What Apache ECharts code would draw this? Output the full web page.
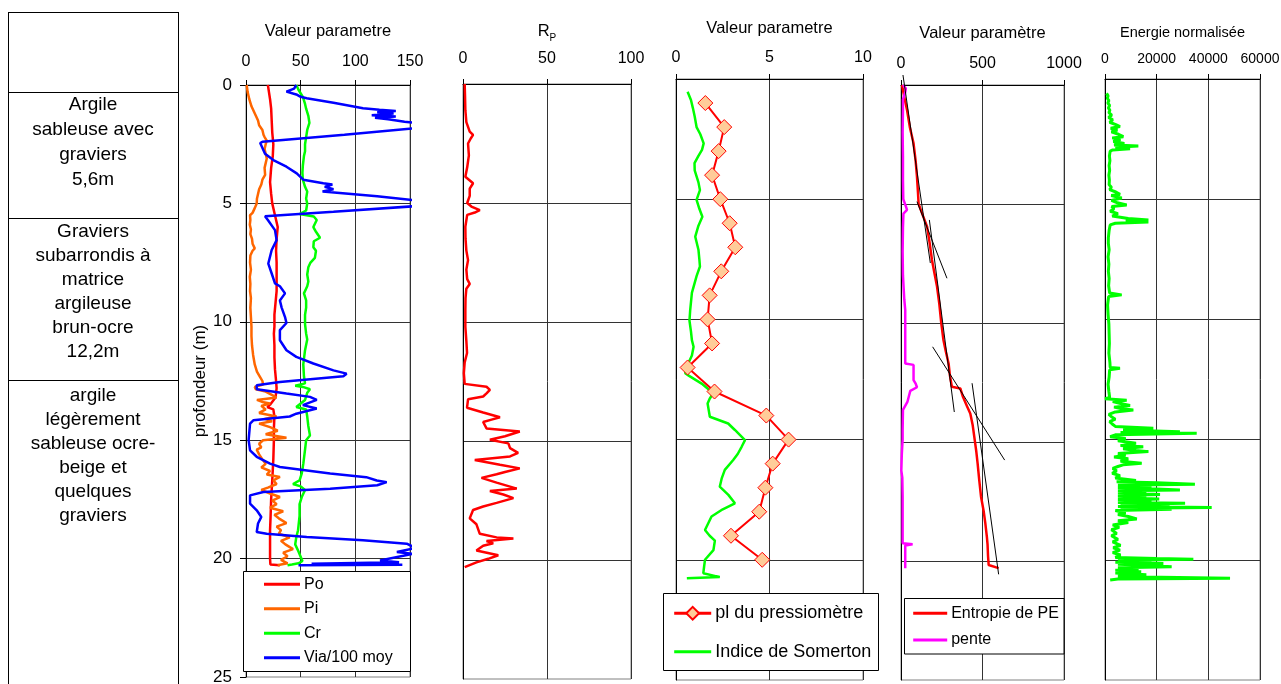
<!DOCTYPE html>
<html><head><meta charset="utf-8">
<script src="https://cdn.jsdelivr.net/npm/echarts@6/dist/echarts.min.js"></script>
<style>html,body{margin:0;padding:0;background:#fff}#c{width:1281px;height:684px}</style>
</head><body><div id="c"></div>
<script>
// ---------- tick labels ----------
const depthTicks = [0, 5, 10, 15, 20, 25];
const ticksP1 = [0, 50, 100, 150];
const ticksP2 = [0, 50, 100];
const ticksP3 = [0, 5, 10];
const ticksP4 = [0, 500, 1000];
const ticksP5 = [0, 20000, 40000, 60000];

// ---------- lithology column ----------
const lithoRows = [
  ['Argile', 'sableuse avec', 'graviers', '5,6m'],
  ['Graviers', 'subarrondis à', 'matrice', 'argileuse', 'brun-ocre', '12,2m'],
  ['argile', 'légèrement', 'sableuse ocre-', 'beige et', 'quelques', 'graviers']
];

// ---------- panel 1 : [depth m, value] ----------
const po = [[0,20],[0.3,21],[0.6,22],[1.0,23],[1.5,23.5],[2.0,24],[2.5,25],[3.0,24.5],[3.5,23],[4.1,22],[4.6,23],[5.0,24],[5.5,26.5],[6.0,29],[6.5,28],[7.0,27.5],[7.5,28],[8.0,28],[8.7,28],[9.2,27],[9.7,26],[10.2,26],[10.5,25.5],[11.0,26],[11.5,26],[12.0,26.5],[12.5,27.5],[12.8,28],[13.2,27],[13.5,22],[13.6,19.5],[13.7,25],[14.0,26],[14.5,25.5],[15.0,25.5],[15.8,25],[16.7,24],[17.5,23],[18.2,22.5],[18.8,22],[19.5,22],[20.0,22],[20.25,22.3],[20.28,31]];
const pi = [[0,0.6],[0.3,1.5],[0.6,3],[0.9,5],[1.1,7],[1.3,9],[1.5,11],[1.7,12],[1.9,15],[2.1,16],[2.2,17],[2.35,19],[2.5,18],[2.7,17],[2.9,18],[3.1,19],[3.3,18],[3.5,17],[3.8,17.5],[4.0,15],[4.2,14],[4.4,12],[4.6,11],[4.8,10],[5.0,9.8],[5.2,8],[5.4,6],[5.5,3.7],[5.7,4],[5.9,3.5],[6.1,4.5],[6.3,4],[6.5,5.5],[6.7,6],[6.9,8],[7.0,6],[7.2,4],[7.5,3.7],[7.8,4.5],[8.1,3.5],[8.4,4],[8.7,3.7],[9.0,4.5],[9.4,4],[9.8,4.5],[10.2,5],[10.6,5],[11.0,5.5],[11.4,6.5],[11.8,8],[12.1,10],[12.3,12.5],[12.5,15],[12.65,15.6],[12.75,8],[12.85,9],[12.95,18],[13.1,24],[13.2,28],[13.3,10],[13.4,16],[13.45,22],[13.55,14],[13.7,18],[13.85,12],[14.0,28],[14.1,17],[14.2,24],[14.3,12],[14.45,22],[14.6,29],[14.75,18],[14.9,37],[15.0,15.6],[15.15,12],[15.3,14],[15.4,9.8],[15.6,12],[15.85,15.6],[16.0,18],[16.15,14],[16.3,22],[16.45,19],[16.55,31],[16.7,25],[16.85,28],[17.0,20],[17.1,14],[17.25,22],[17.4,31],[17.55,24],[17.7,28],[17.85,22],[18.0,34],[18.15,26],[18.3,30],[18.5,37],[18.65,28],[18.8,32],[18.95,30],[19.1,40],[19.25,32],[19.4,36],[19.6,43],[19.75,34],[19.9,38],[20.05,32],[20.2,38],[20.25,32],[20.28,29]];
const cr = [[0,46],[0.2,48],[0.5,52],[0.8,54],[1.0,55],[1.3,57],[1.6,58],[1.9,56],[2.2,55],[2.5,54],[2.8,54],[3.0,53],[3.4,52],[3.7,51.6],[4.0,52],[4.3,54],[4.5,56],[4.8,55],[5.0,56],[5.3,55],[5.45,49],[5.5,49],[5.55,62],[5.7,64.7],[6.0,61.6],[6.2,64],[6.45,67.7],[6.6,62],[6.85,61.6],[7.0,64],[7.3,63],[7.5,59],[7.7,57],[8.0,56],[8.3,57],[8.5,56],[8.8,53],[9.1,55],[9.4,55],[9.7,54],[10.1,54],[10.5,55],[10.75,56],[11.2,54],[11.8,52.4],[12.3,53],[12.6,54],[12.7,45],[12.75,52],[12.85,58.5],[13.0,56],[13.3,54],[13.6,46],[13.7,55],[14.0,56],[14.4,57],[14.8,58.5],[15.0,55],[15.4,54],[16.0,52.4],[16.4,51],[16.7,49],[16.85,43],[16.95,50],[17.1,54],[17.4,51],[17.7,49],[18.2,49],[18.8,47.6],[19.1,46],[19.4,45],[19.7,48],[20.1,51.6],[20.2,48],[20.25,42],[20.28,38]];
const via = [[0,46],[0.15,44],[0.28,37],[0.4,46],[0.5,50],[0.56,55.5],[0.75,80],[0.98,107],[1.05,122],[1.1,137],[1.15,120],[1.2,135],[1.28,115],[1.33,137],[1.38,118],[1.45,130],[1.55,145],[1.62,160],[1.8,160],[2.1,90],[2.4,15],[2.45,13],[2.9,17.4],[3.17,25],[3.45,37],[3.73,46.4],[4.0,52.4],[4.15,70.7],[4.2,79],[4.3,72],[4.4,80],[4.5,70],[4.7,120],[4.9,160],[5.1,160],[5.35,80],[5.54,17.4],[5.7,20],[6.13,26.5],[6.55,28],[6.97,23.5],[7.54,20.4],[7.96,23.5],[8.38,26.5],[8.5,31],[8.8,35.7],[9.1,31],[9.4,32.6],[9.8,35.7],[10.05,37],[10.35,31],[10.78,31],[11.2,37],[11.48,46],[11.76,61.6],[12.05,80],[12.19,92],[12.3,89],[12.54,31],[12.68,9.8],[12.85,9.8],[13.03,37],[13.17,58.5],[13.3,64.7],[13.52,52],[13.66,64.7],[13.88,46],[14.0,40],[14.16,6.7],[14.3,3.7],[15.0,2.4],[15.43,3.7],[15.7,9.8],[15.99,22],[16.13,31],[16.41,77],[16.56,110],[16.7,119.6],[16.77,128.7],[16.9,120],[17.05,77],[17.19,15.9],[17.33,3.7],[17.68,3.7],[17.96,9.8],[18.24,14],[18.52,11],[18.88,9.8],[18.95,18.9],[19.09,55.5],[19.23,107],[19.37,147],[19.55,155],[19.72,138],[19.8,152],[20.08,122.6],[20.15,140],[20.22,60],[20.26,143],[20.28,48]];

// ---------- panel 2 : RP ----------
const rp = [[0,1],[0.5,1.2],[1.1,1.4],[1.6,2],[2.0,4],[2.14,6],[2.3,4.5],[2.5,3],[3.0,3.5],[3.5,2.5],[3.9,1.4],[4.17,6],[4.4,4],[4.7,4],[5.0,2.5],[5.15,5],[5.3,10],[5.4,7],[5.5,2.5],[6.0,1.4],[6.5,1.5],[7.0,2],[7.4,3],[7.8,2],[8.2,2.5],[8.4,4],[8.6,2],[9.0,1.5],[9.5,1.4],[10.2,1.4],[10.8,2],[11.3,2.4],[11.7,1],[12.15,0.5],[12.6,1],[12.72,14],[12.85,16],[13.0,14],[13.13,12],[13.25,3],[13.6,2.4],[13.8,12],[14.0,22],[14.1,17],[14.2,12],[14.47,14],[14.6,33.8],[14.8,25],[14.95,16],[15.1,27],[15.3,28],[15.5,32.8],[15.65,28],[15.8,7],[16.0,22],[16.15,33.8],[16.3,25],[16.4,20],[16.55,11],[16.75,20],[17.0,32],[17.1,16],[17.25,24],[17.4,30],[17.6,20],[17.75,12],[17.9,6],[18.25,4],[18.5,8],[18.9,10],[19.05,20],[19.1,30],[19.2,14],[19.3,18],[19.4,12],[19.6,8],[19.8,21],[19.95,15],[20.1,8],[20.3,1]];

// ---------- panel 3 ----------
const plDepth = [1,2,3,4,5,6,7,8,9,10,11,12,13,14,15,16,17,18,19,20];
const plValue = [1.57,2.58,2.28,1.93,2.37,2.87,3.17,2.42,1.8,1.69,1.93,0.62,2.06,4.83,6.02,5.17,4.78,4.45,2.94,4.61];
const somerton = [[0.53,0.62],[0.87,0.8],[1.2,0.9],[1.56,1.0],[2.0,1.1],[2.3,1.3],[2.68,1.48],[2.95,1.39],[3.2,1.2],[3.5,0.99],[3.8,1.0],[4.05,1.1],[4.3,1.2],[4.62,1.28],[5.03,1.1],[5.4,1.25],[5.73,1.41],[6.1,1.2],[6.56,1.03],[7.1,1.2],[7.5,1.25],[7.8,1.28],[8.2,1.1],[8.9,0.85],[9.6,0.76],[10.05,0.72],[10.5,0.8],[10.86,0.85],[11.14,0.94],[11.5,0.85],[11.8,0.67],[12.24,0.49],[12.35,0.7],[12.67,1.37],[13.07,1.99],[13.3,1.8],[13.5,1.69],[14.05,1.81],[14.33,2.79],[14.6,3.15],[15.02,3.69],[15.3,3.51],[15.6,3.3],[15.85,3.06],[16.26,2.61],[16.6,2.45],[16.96,2.34],[17.3,2.8],[17.65,3.15],[17.9,2.5],[18.2,1.9],[18.76,1.55],[19.0,1.8],[19.2,2.08],[19.6,2.0],[20.0,1.55],[20.3,1.5],[20.56,1.46],[20.72,2.34],[20.77,0.58]];

// ---------- panel 4 ----------
const entropie = [[0,6],[0.5,20],[1.05,37],[1.8,55],[2.45,77],[3.2,90],[3.85,98],[4.5,104],[5.0,108],[5.5,135],[5.95,160],[6.6,175],[7.35,190],[7.9,205],[8.47,221],[9.2,235],[10.0,247],[10.7,260],[11.2,275],[11.7,292],[12.2,300],[12.68,312],[12.75,364],[13.1,380],[13.5,405],[13.8,425],[14.3,440],[14.9,452],[15.4,462],[15.9,470],[16.6,480],[17.3,491],[17.9,507],[18.4,517],[19.0,527],[19.3,531],[19.8,534],[20.17,538],[20.3,599]];
const pente = [[0,12],[0.15,30],[0.3,26],[0.6,12],[1.05,12],[2.0,10],[3.0,12],[4.0,12],[4.8,14],[5.1,30],[5.25,37],[5.4,15],[6.0,12],[7.0,10],[8.0,12],[9.0,20],[9.45,26],[10.3,26],[11.0,26],[11.7,26],[11.76,77],[12.4,77],[12.55,90],[12.7,98],[12.85,57],[13.3,40],[13.65,12],[14.5,10],[14.9,10],[15.5,5],[16.2,2],[16.5,8],[17.3,10],[18.0,10],[18.8,10],[19.25,10],[19.3,71],[19.35,26],[20.3,26]];
const trendA = [[-0.42,12],[7.48,180]];
const trendB = [[4.9,98],[8.12,282]];
const trendC = [[5.67,174],[13.74,327]];
const trendD = [[11.0,194],[15.76,636]];
const trendE = [[12.53,436],[20.56,599]];

// ---------- panel 5 ----------
const energie = [[0.6,600],[0.7,1200],[0.8,900],[0.9,1500],[1.0,1100],[1.1,1800],[1.2,1300],[1.3,1900],[1.4,1500],[1.5,2600],[1.6,1400],[1.7,3000],[1.8,1800],[1.9,4200],[1.98,5800],[2.05,2200],[2.12,4800],[2.2,2500],[2.3,5200],[2.4,7100],[2.45,2800],[2.52,6000],[2.6,3200],[2.68,7500],[2.75,3500],[2.79,12900],[2.84,4000],[2.9,9700],[2.95,3000],[3.0,2000],[3.2,1700],[3.4,1900],[3.6,1600],[3.8,1800],[4.0,1500],[4.2,1700],[4.4,1600],[4.5,2500],[4.6,1800],[4.7,4200],[4.8,5800],[4.85,2400],[4.95,6500],[5.05,2500],[5.15,4800],[5.24,8400],[5.3,2600],[5.4,3500],[5.5,2000],[5.6,5000],[5.7,2800],[5.8,9000],[5.87,16800],[5.9,8000],[5.95,16800],[6.0,4000],[6.07,2000],[6.3,1600],[6.6,1300],[6.84,1290],[7.1,1600],[7.4,1200],[7.7,1500],[8.0,1300],[8.3,1600],[8.6,1400],[8.9,1800],[8.98,6450],[9.05,1400],[9.4,1000],[9.8,1200],[10.2,1500],[10.6,1600],[11.0,1700],[11.4,1500],[11.8,1900],[12.0,2000],[12.03,5800],[12.1,1800],[12.4,1600],[12.7,1200],[13.0,1500],[13.25,1800],[13.3,0],[13.36,8400],[13.42,3000],[13.5,6000],[13.58,9700],[13.65,3500],[13.72,6500],[13.77,10970],[13.85,4000],[13.95,1500],[14.05,2500],[14.15,4000],[14.25,1800],[14.35,2800],[14.45,4000],[14.53,18700],[14.6,7000],[14.67,29000],[14.7,6000],[14.74,35500],[14.8,4000],[14.88,2000],[14.95,8000],[15.05,5000],[15.15,12000],[15.25,6000],[15.3,14800],[15.38,7000],[15.45,12000],[15.5,16800],[15.58,5000],[15.65,8000],[15.72,3500],[15.8,9000],[15.9,6000],[15.98,14200],[16.05,7000],[16.12,5000],[16.2,3000],[16.3,4500],[16.4,2800],[16.5,5800],[16.6,4000],[16.7,12000],[16.75,4500],[16.8,20000],[16.86,34800],[16.9,5000],[16.95,18000],[17.0,5000],[17.05,20000],[17.1,29000],[17.13,5000],[17.18,16000],[17.22,5000],[17.28,21300],[17.33,5000],[17.38,16000],[17.42,5000],[17.47,21000],[17.52,5000],[17.58,18000],[17.62,5000],[17.65,31000],[17.7,6000],[17.75,25000],[17.78,5000],[17.82,41300],[17.86,6000],[17.9,25800],[17.95,4000],[18.05,8000],[18.12,5000],[18.2,9000],[18.3,12300],[18.38,5000],[18.45,9000],[18.55,3000],[18.65,5500],[18.75,2500],[18.9,4500],[19.0,2500],[19.15,5000],[19.25,3000],[19.4,6000],[19.5,3200],[19.6,5800],[19.7,3000],[19.8,6000],[19.9,4000],[19.95,20000],[19.98,34200],[20.02,5000],[20.06,18000],[20.1,4000],[20.15,22600],[20.19,5000],[20.23,16000],[20.29,25800],[20.33,5000],[20.38,13000],[20.43,4000],[20.5,14000],[20.55,4000],[20.62,16000],[20.68,5000],[20.72,15000],[20.77,48400],[20.8,5000],[20.84,2000]];

// ---------- build ----------
const FONT = "'Liberation Sans', Arial, sans-serif";
const flip = arr => arr.map(p => [p[1], p[0]]);

const grids = [
  {left: 246, top: 85, width: 164, height: 592},
  {left: 463, top: 84, width: 168, height: 595},
  {left: 676, top: 79, width: 187, height: 601},
  {left: 901, top: 85, width: 163, height: 595},
  {left: 1105, top: 79, width: 155, height: 601}
].map(g => Object.assign(g, {show: true, borderColor: '#808080', borderWidth: 1, backgroundColor: 'transparent', outerBoundsMode: 'none', containLabel: false}));

function mkX(idx, ticks, name, o) {
  return {
    type: 'value', gridIndex: idx, position: 'top',
    min: ticks[0], max: ticks[ticks.length - 1], interval: ticks[1] - ticks[0],
    name: name, nameLocation: 'middle', nameGap: o.nameGap,
    nameTextStyle: {fontSize: o.nameSize, color: '#000', fontFamily: FONT, rich: o.rich},
    axisLine: {show: true, onZero: false, lineStyle: {color: '#000', width: 1}},
    axisTick: {show: true, inside: false, length: 5, lineStyle: {color: '#000'}},
    axisLabel: {show: true, fontSize: o.labelSize, color: '#000', margin: o.margin, fontFamily: FONT,
      formatter: v => String(v), hideOverlap: false},
    splitLine: {show: true, lineStyle: {color: '#333', width: 1}}
  };
}
function mkY(idx, withLabels) {
  return {
    type: 'value', gridIndex: idx, inverse: true,
    min: depthTicks[0], max: depthTicks[depthTicks.length - 1], interval: depthTicks[1] - depthTicks[0],
    name: withLabels ? 'profondeur (m)' : '', nameLocation: 'middle', nameRotate: 90, nameGap: 34,
    nameTextStyle: {fontSize: 17, color: '#000', fontFamily: FONT},
    axisLine: {show: true, onZero: false, lineStyle: {color: '#000', width: 1}},
    axisTick: {show: withLabels, inside: false, length: 6, lineStyle: {color: '#000'}},
    axisLabel: {show: withLabels, fontSize: 17, color: '#000', margin: 14, fontFamily: FONT, formatter: v => String(v)},
    splitLine: {show: true, showMaxLine: false, lineStyle: {color: '#333', width: 1}}
  };
}

const xAxis = [
  mkX(0, ticksP1, 'Valeur parametre', {nameGap: 45, nameSize: 16.5, labelSize: 16, margin: 15}),
  mkX(1, ticksP2, '{r|R}{p|P}', {nameGap: 44, nameSize: 16.5, labelSize: 16, margin: 17,
      rich: {r: {fontSize: 16.5, fontFamily: FONT, color: '#000', verticalAlign: 'bottom'},
             p: {fontSize: 10, fontFamily: FONT, color: '#000', verticalAlign: 'bottom', padding: [0, 0, -3, 0]}}}),
  mkX(2, ticksP3, 'Valeur parametre', {nameGap: 42, nameSize: 16.5, labelSize: 16, margin: 13}),
  mkX(3, ticksP4, 'Valeur paramètre', {nameGap: 43, nameSize: 16.5, labelSize: 16, margin: 13}),
  mkX(4, ticksP5, 'Energie normalisée', {nameGap: 39, nameSize: 14.5, labelSize: 14, margin: 13})
];
const yAxis = [mkY(0, true), mkY(1, false), mkY(2, false), mkY(3, false), mkY(4, false)];

function curve(name, idx, data, color, width, extra) {
  return Object.assign({
    name: name, type: 'line', xAxisIndex: idx, yAxisIndex: idx,
    data: flip(data), symbol: 'none', showSymbol: false, clip: true,
    lineStyle: {color: color, width: width}, itemStyle: {color: color},
    silent: true, animation: false, z: 3
  }, extra || {});
}
function trend(idx, data) {
  return {type: 'line', xAxisIndex: idx, yAxisIndex: idx, data: flip(data), symbol: 'none',
    clip: false, lineStyle: {color: '#000', width: 1}, itemStyle: {color: '#000'}, silent: true, z: 4};
}

const series = [
  curve('Po', 0, po, '#FF0000', 2.5),
  curve('Pi', 0, pi, '#FF6600', 2.5),
  curve('Cr', 0, cr, '#00FF00', 2.5),
  curve('Via/100 moy', 0, via, '#0000FF', 2.5),
  curve('RP', 1, rp, '#FF0000', 2.5),
  curve('Indice de Somerton', 2, somerton, '#00FF00', 2.5),
  {
    name: 'pl du pressiomètre', type: 'line', xAxisIndex: 2, yAxisIndex: 2,
    data: plDepth.map((d, i) => [plValue[i], d]),
    symbol: 'diamond', symbolSize: 15, showSymbol: true,
    lineStyle: {color: '#FF0000', width: 2},
    itemStyle: {color: '#FFCC99', borderColor: '#FF0000', borderWidth: 1, opacity: 1},
    silent: true, z: 5
  },
  curve('Entropie de PE', 3, entropie, '#FF0000', 2.5),
  curve('pente', 3, pente, '#FF00FF', 2.5),
  trend(3, trendA), trend(3, trendB), trend(3, trendC), trend(3, trendD), trend(3, trendE),
  curve('Energie normalisée', 4, energie, '#00FF00', 3)
];

const noSym = n => ({name: n, itemStyle: {opacity: 0, borderWidth: 0}});
function mkLegend(items, left, top, fontSize, lineHeight, gap, iw, ih) {
  return {
    data: items, orient: 'vertical', left: left, top: top, padding: 0,
    itemGap: gap, itemWidth: iw, itemHeight: ih, z: 20, selectedMode: false,
    backgroundColor: 'transparent', borderWidth: 0,
    lineStyle: {width: 3},
    textStyle: {fontSize: fontSize, lineHeight: lineHeight, color: '#000', fontFamily: FONT, padding: [0, 0, 0, -1]}
  };
}
const legend = [
  mkLegend(['Po', 'Pi', 'Cr', 'Via/100 moy'].map(noSym), 262.5, 575.3, 16, 18, 6.5, 36, 14),
  mkLegend(['pl du pressiomètre', noSym('Indice de Somerton')], 672.7, 603.3, 18, 20, 18.4, 37, 16),
  mkLegend(['Entropie de PE', 'pente'].map(noSym), 911.7, 604.3, 16, 18, 8.7, 34, 14)
];

// graphic: lithology table + legend boxes
const gfx = [];
const lineStyle = {stroke: '#000', lineWidth: 1};
const tblX0 = 8.5, tblX1 = 178.5;
const rowBounds = [12.5, 92.5, 218.5, 380.5];
gfx.push({type: 'line', shape: {x1: tblX0, y1: 12, x2: tblX0, y2: 684}, style: lineStyle, z: 10});
gfx.push({type: 'line', shape: {x1: tblX1, y1: 12, x2: tblX1, y2: 684}, style: lineStyle, z: 10});
rowBounds.forEach(y => gfx.push({type: 'line', shape: {x1: tblX0, y1: y, x2: tblX1, y2: y}, style: lineStyle, z: 10}));
const rowFirstLine = [105, 232, 396];
const rowPitch = [25, 24, 24];
lithoRows.forEach((lines, r) => {
  lines.forEach((t, i) => {
    gfx.push({type: 'text', x: 93, y: rowFirstLine[r] + i * rowPitch[r], z: 10,
      style: {text: t, fill: '#000', fontSize: 19, fontFamily: FONT,
        align: 'center', verticalAlign: 'middle', textAlign: 'center', textVerticalAlign: 'middle'}});
  });
});
[[243.5, 571.5, 167, 100], [663.5, 593.5, 215, 77], [904.5, 598.5, 159.5, 55.5]].forEach(b => {
  gfx.push({type: 'rect', shape: {x: b[0], y: b[1], width: b[2], height: b[3]},
    style: {fill: '#fff', stroke: '#000', lineWidth: 1}, z: 10});
});

const chart = echarts.init(document.getElementById('c'), null, {renderer: 'canvas'});
chart.setOption({
  animation: false,
  backgroundColor: '#fff',
  grid: grids, xAxis: xAxis, yAxis: yAxis, series: series, legend: legend,
  graphic: {elements: gfx}
});
</script>
</body></html>
